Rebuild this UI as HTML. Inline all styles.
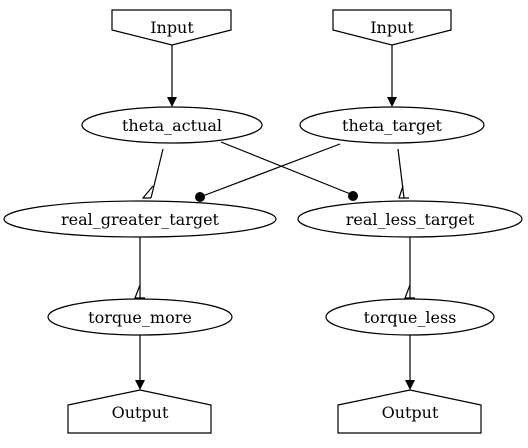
<!DOCTYPE html>
<html><head><style>body{margin:0;background:#fff}</style></head><body>
<svg width="528" height="443" viewBox="0 0 528 443" xmlns="http://www.w3.org/2000/svg" font-family="DejaVu Serif, serif" font-size="16">
<rect width="528" height="443" fill="#fff"/>
<g fill="none" stroke="#000" stroke-width="1.2">
<polygon points="112,10 231,10 231,30 172,45 112,30"/>
<polygon points="333,10 451,10 451,30 392,45 333,30"/>
<ellipse cx="172" cy="125" rx="90" ry="18"/>
<ellipse cx="392" cy="125" rx="92" ry="18"/>
<ellipse cx="140" cy="219" rx="136" ry="18"/>
<ellipse cx="410" cy="219" rx="112" ry="18"/>
<ellipse cx="140" cy="317" rx="92" ry="18"/>
<ellipse cx="410" cy="317" rx="84" ry="18"/>
<polygon points="68,405 140,390 211,405 211,433 68,433"/>
<polygon points="338,405 410,390 481,405 481,433 338,433"/>
<line x1="172" y1="45" x2="172" y2="97"/>
<line x1="392" y1="45" x2="392" y2="97"/>
<line x1="140" y1="335" x2="140" y2="380"/>
<line x1="410" y1="335" x2="410" y2="380"/>
<line x1="163" y1="149" x2="151" y2="198"/>
<path d="M153,186 L143,198 L151,198"/>
<line x1="221" y1="142" x2="353" y2="195"/>
<line x1="340" y1="144" x2="200" y2="197"/>
<line x1="398" y1="149" x2="404" y2="198"/>
<path d="M403,186 L399,198 L409,198"/>
<line x1="140" y1="237" x2="140" y2="298"/>
<path d="M140,285 L135,298 L145,298"/>
<line x1="410" y1="237" x2="410" y2="298"/>
<path d="M410,285 L405,298 L415,298"/>
</g>
<g fill="#000">
<polygon points="167,97 177,97 172,107"/>
<polygon points="387,97 397,97 392,107"/>
<polygon points="135,380 145,380 140,390"/>
<polygon points="405,380 415,380 410,390"/>
<circle cx="353" cy="196" r="5"/>
<circle cx="200" cy="197" r="5"/>
</g>
<g text-anchor="middle" fill="#000">
<text x="172" y="33">Input</text>
<text x="392" y="33">Input</text>
<text x="172" y="131">theta_actual</text>
<text x="392" y="131">theta_target</text>
<text x="140" y="225">real_greater_target</text>
<text x="410" y="225">real_less_target</text>
<text x="140" y="323">torque_more</text>
<text x="410" y="323">torque_less</text>
<text x="140" y="418">Output</text>
<text x="410" y="418">Output</text>
</g>
</svg>
</body></html>
